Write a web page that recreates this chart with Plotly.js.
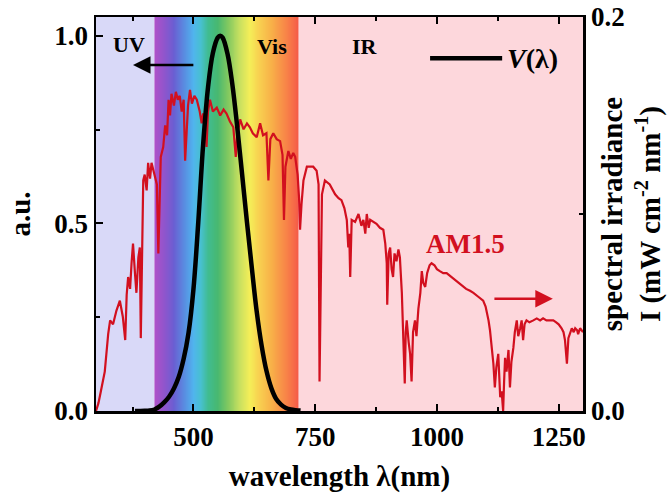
<!DOCTYPE html>
<html>
<head>
<meta charset="utf-8">
<script src="https://cdn.plot.ly/plotly-3.0.1.min.js"></script>
<style>html,body{margin:0;padding:0;background:#fff;}#chart{width:671px;height:498px;}</style>
</head>
<body>
<div id="chart"></div>
<script>
// ---- AM1.5 solar spectrum, mW cm^-2 nm^-1 ----
const am15Wavelength = [300,305,310,318,325,329,335,342,349,355,360,363,366,370,373,376,380,383,387,390,392,395,397,400,404,407,411,414,418,421,425,428,431,433,438,442,446,449,452,455,460,464,468,472,476,480,483,486,489,493,497,502,507,513,517,520,524,527,530,534,540,548,555,562,568,575,582,587,590,596,603,610,616,622,630,637,643,650,654,658,664,671,678,683,686,689,695,700,705,709,714,717,719,722,726,733,740,746,753,757,759,761,764,770,780,791,798,804,810,815,818,820,822,825,832,839,845,849,853,856,860,863,870,876,883,890,894,897,898,901,904,907,910,913,917,921,924,928,931,934,936,938,942,945,948,951,955,958,962,966,969,972,976,980,985,989,995,1000,1006,1013,1020,1030,1041,1050,1060,1068,1075,1085,1095,1100,1102,1106,1109,1113,1116,1119,1122,1126,1128,1130,1133,1136,1138,1140,1143,1147,1150,1153,1157,1160,1164,1167,1171,1174,1177,1180,1184,1190,1198,1205,1212,1218,1225,1232,1239,1245,1250,1256,1260,1263,1267,1270,1274,1277,1281,1284,1288,1290,1294,1297,1300];
const am15Irradiance = [0.000,0.004,0.010,0.020,0.039,0.046,0.044,0.051,0.056,0.048,0.036,0.059,0.068,0.062,0.075,0.085,0.070,0.060,0.078,0.083,0.037,0.087,0.117,0.120,0.112,0.126,0.118,0.126,0.122,0.120,0.115,0.080,0.110,0.129,0.134,0.145,0.140,0.158,0.150,0.161,0.155,0.162,0.158,0.160,0.152,0.158,0.127,0.140,0.155,0.163,0.156,0.160,0.158,0.152,0.146,0.151,0.148,0.134,0.152,0.158,0.152,0.154,0.150,0.153,0.151,0.147,0.144,0.129,0.140,0.148,0.143,0.146,0.144,0.141,0.139,0.146,0.140,0.141,0.117,0.138,0.141,0.138,0.137,0.130,0.097,0.124,0.132,0.128,0.131,0.129,0.120,0.108,0.092,0.105,0.117,0.124,0.124,0.124,0.122,0.115,0.015,0.060,0.110,0.117,0.115,0.110,0.108,0.107,0.103,0.097,0.083,0.090,0.068,0.097,0.096,0.100,0.094,0.097,0.090,0.100,0.093,0.097,0.096,0.095,0.093,0.092,0.085,0.075,0.054,0.080,0.083,0.072,0.068,0.080,0.076,0.082,0.078,0.060,0.037,0.014,0.040,0.046,0.035,0.029,0.015,0.040,0.046,0.038,0.052,0.060,0.071,0.065,0.063,0.070,0.074,0.075,0.074,0.072,0.071,0.070,0.070,0.068,0.066,0.064,0.062,0.061,0.060,0.058,0.056,0.053,0.051,0.046,0.041,0.032,0.024,0.012,0.022,0.029,0.015,0.007,0.010,0.000,0.015,0.027,0.020,0.031,0.012,0.025,0.032,0.040,0.046,0.038,0.042,0.046,0.036,0.044,0.046,0.045,0.046,0.047,0.046,0.047,0.046,0.046,0.046,0.045,0.044,0.042,0.040,0.036,0.024,0.037,0.040,0.042,0.040,0.042,0.041,0.039,0.042,0.041,0.040];

// ---- Photopic luminosity function V(lambda) ----
const vWavelength = [380,390,400,410,420,430,440,450,460,470,480,490,500,510,520,530,540,550,555,560,570,580,590,600,610,620,630,640,650,660,670,680,690,700,710,720];
const vValue = [0.00004,0.00012,0.0004,0.0012,0.004,0.0116,0.023,0.038,0.06,0.091,0.139,0.208,0.323,0.503,0.71,0.862,0.954,0.995,1.0,0.995,0.952,0.870,0.757,0.631,0.503,0.381,0.265,0.175,0.107,0.061,0.032,0.017,0.0082,0.0041,0.0021,0.00105];

// ---- ticks & labels ----
const xTickVals = [500,750,1000,1250];
const xTickText = ['500','750','1000','1250'];
const xMinorVals = [375,625,875,1125];
const leftTickVals = [0,0.5,1.0];
const leftTickText = ['0.0','0.5','1.0'];
const leftMinorVals = [0.25,0.75];
const rightTickVals = [0,0.2];
const rightTickText = ['0.0','0.2'];
const rightMinorVals = [0.1];
const rightTitle = 'spectral irradiance<br>I (mW cm<sup>-2</sup> nm<sup>-1</sup>)';

// ---- spectral regions ----
const uvBand = [300,420];
const visBand = [420,715];
const irBand = [715,1300];
const rainbowStops = [
  [420,'#b050c8'],[440,'#9055cc'],[460,'#6a5ed2'],[480,'#5a8ae0'],[500,'#50b4ee'],
  [515,'#48c0d0'],[530,'#40bc90'],[550,'#48b870'],[570,'#80c860'],[595,'#c8e060'],
  [615,'#f4ee58'],[635,'#f8d050'],[660,'#f8b048'],[690,'#f88448'],[715,'#f55a48']
];

// build gradient heatmap (1 nm columns across the visible band)
const gradEdges = [], gradZ = [];
for (let w = visBand[0]; w <= visBand[1]; w += 1) gradEdges.push(w);
for (let i = 0; i < gradEdges.length - 1; i++) gradZ.push((gradEdges[i] + gradEdges[i+1]) / 2);
const span = visBand[1] - visBand[0];
const colorscale = rainbowStops.map(s => [(s[0] - visBand[0]) / span, s[1]]);

const FONT = 'Liberation Serif, Times New Roman, serif';
const RED = '#d2101f';

const traces = [
  {type:'heatmap', x: gradEdges, y:[0,0.2], z:[gradZ], colorscale: colorscale,
   zmin: visBand[0], zmax: visBand[1], showscale:false, hoverinfo:'skip', xaxis:'x', yaxis:'y'},
  {type:'scatter', mode:'lines', x: am15Wavelength, y: am15Irradiance, name:'AM1.5',
   line:{color:RED, width:2.2}, xaxis:'x', yaxis:'y'},
  {type:'scatter', mode:'lines', x: vWavelength, y: vValue, name:'V(λ)',
   line:{color:'#000', width:4.5, shape:'spline'}, xaxis:'x', yaxis:'y2'}
];

const axisCommon = {
  showline:true, linecolor:'#000', linewidth:2.5, ticks:'inside', ticklen:7, tickwidth:2,
  tickcolor:'#000', showgrid:false, zeroline:false,
  tickfont:{family:FONT, size:27, color:'#000', weight:'bold'}
};

const layout = {
  width:671, height:498,
  margin:{l:96, r:88, t:17, b:87},
  paper_bgcolor:'#fff', plot_bgcolor:'#fff',
  showlegend:false,
  xaxis: Object.assign({}, axisCommon, {
    range:[300,1300], tickmode:'array', tickvals:xTickVals, ticktext:xTickText, mirror:'ticks',
    minor:{tickmode:'array', tickvals:xMinorVals, ticks:'inside', ticklen:4, tickwidth:2, tickcolor:'#000'},
    title:{text:'wavelength λ(nm)', font:{family:FONT, size:29, color:'#000', weight:'bold'}, standoff:15}
  }),
  yaxis: Object.assign({}, axisCommon, {
    side:'right', range:[0,0.2], tickmode:'array', tickvals:rightTickVals, ticktext:rightTickText,
    minor:{tickmode:'array', tickvals:rightMinorVals, ticks:'inside', ticklen:4, tickwidth:2, tickcolor:'#000'}
  }),
  yaxis2: Object.assign({}, axisCommon, {
    side:'left', overlaying:'y', range:[0,1.05], tickmode:'array', tickvals:leftTickVals, ticktext:leftTickText,
    minor:{tickmode:'array', tickvals:leftMinorVals, ticks:'inside', ticklen:4, tickwidth:2, tickcolor:'#000'},
    title:{text:'a.u.', font:{family:FONT, size:29, color:'#000', weight:'bold'}, standoff:15}
  }),
  shapes:[
    {type:'rect', xref:'x', yref:'paper', x0:uvBand[0], x1:uvBand[1], y0:0, y1:1, fillcolor:'#d9d9f8', line:{width:0}, layer:'below'},
    {type:'rect', xref:'x', yref:'paper', x0:irBand[0], x1:irBand[1], y0:0, y1:1, fillcolor:'#fdd7dc', line:{width:0}, layer:'below'},
    {type:'line', xref:'x', yref:'y2', x0:986, x1:1134, y0:0.94, y1:0.94, line:{color:'#000', width:4.5}}
  ],
  annotations:[
    {text:rightTitle, x:1.099, y:0.5, xref:'paper', yref:'paper', xanchor:'center', yanchor:'middle', textangle:-90, showarrow:false, font:{family:FONT, size:29, color:'#000', weight:'bold'}},
    {text:'UV', x:368, y:0.978, xref:'x', yref:'y2', showarrow:false, font:{family:FONT, size:22, color:'#000', weight:'bold'}},
    {text:'Vis', x:661, y:0.972, xref:'x', yref:'y2', showarrow:false, font:{family:FONT, size:22, color:'#000', weight:'bold'}},
    {text:'IR', x:852, y:0.972, xref:'x', yref:'y2', showarrow:false, font:{family:FONT, size:22, color:'#000', weight:'bold'}},
    {text:'<i>V</i>(λ)', x:1140, y:0.94, xref:'x', yref:'y2', xanchor:'left', showarrow:false, font:{family:FONT, size:28, color:'#000', weight:'bold'}},
    {text:'AM1.5', x:1058, y:0.446, xref:'x', yref:'y2', showarrow:false, font:{family:FONT, size:27, color:RED, weight:'bold'}},
    {text:'', x:376, y:0.922, ax:503, ay:0.922, xref:'x', yref:'y2', axref:'x', ayref:'y2', showarrow:true, arrowhead:2, arrowsize:1.4, arrowwidth:2.5, arrowcolor:'#000', standoff:0},
    {text:'', x:1238, y:0.299, ax:1115, ay:0.299, xref:'x', yref:'y2', axref:'x', ayref:'y2', showarrow:true, arrowhead:2, arrowsize:1.4, arrowwidth:2.5, arrowcolor:RED, standoff:0}
  ]
};

Plotly.newPlot('chart', traces, layout, {staticPlot:true, displayModeBar:false});
</script>
</body>
</html>
